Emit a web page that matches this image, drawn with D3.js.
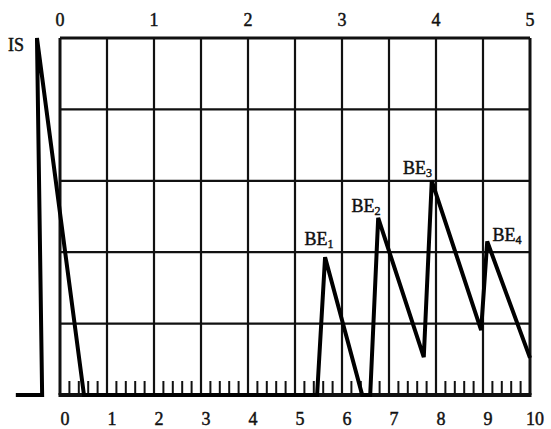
<!DOCTYPE html>
<html><head><meta charset="utf-8">
<script src="https://cdn.jsdelivr.net/npm/d3@7"></script>
<style>body{margin:0;background:#fff}svg{display:block}text{font-family:"Liberation Serif","DejaVu Serif",serif;fill:#111;stroke:#111;stroke-width:0.45}</style>
</head><body>
<svg id="c" width="551" height="429"></svg>
<script>
// data
const bottomTicks = [0,1,2,3,4,5,6,7,8,9,10];
const topTicks = [0,1,2,3,4,5];
const rowLines = [1,2,3,4,5];
// trace (bottom-axis units, grid-row units)
const traceX = [-0.94,-0.38,-0.49,0.51,5.47,5.64,6.43,6.60,6.77,7.74,7.91,8.96,9.09,10.0];
const traceY = [0,    0,    5.0,  0,   0,   1.93,0,   0,   2.48,0.53,3.0, 0.91,2.15,0.52];
const peakNames = ["BE","BE","BE","BE"];
const peakSubs = ["1","2","3","4"];
const peakLabelX = [5.2,6.2,7.3,9.2];
const peakLabelY = [2.1,2.56,3.1,2.15];

const svg = d3.select("#c");
const xB = d3.scaleLinear().domain([0,10]).range([60,530]);
const xT = d3.scaleLinear().domain([0,5]).range([60,530]);
const y = d3.scaleLinear().domain([0,5]).range([395,38]);

const g = svg.append("g");
// vertical grid lines
g.selectAll("line.v").data(bottomTicks).join("line")
  .attr("x1",d=>xB(d)).attr("x2",d=>xB(d)).attr("y1",y(5)).attr("y2",y(0))
  .attr("stroke","#111").attr("stroke-width",d=>(d===0||d===10)?3:2.2);
// horizontal grid lines
g.selectAll("line.h").data(rowLines).join("line")
  .attr("x1",xB(0)).attr("x2",xB(10)).attr("y1",d=>y(d)).attr("y2",d=>y(d))
  .attr("stroke","#111").attr("stroke-width",d=>d===5?3:2.2);
// baseline
g.append("line").attr("x1",xB(0)-1.5).attr("x2",xB(10)+1.5).attr("y1",y(0)).attr("y2",y(0))
  .attr("stroke","#111").attr("stroke-width",4);
// minor ticks
const minor = d3.range(0,50).map(i=>i*0.2).filter(v=>Math.abs(v-Math.round(v))>1e-6);
g.selectAll("line.m").data(minor).join("line")
  .attr("x1",d=>xB(d)).attr("x2",d=>xB(d)).attr("y1",y(0)).attr("y2",y(0)-14)
  .attr("stroke","#111").attr("stroke-width",2);

// top axis labels
svg.selectAll("text.t").data(topTicks).join("text")
  .attr("x",d=>xT(d)).attr("y",26).attr("text-anchor","middle")
  .attr("font-size",18).text(d=>d);
// bottom axis labels
svg.selectAll("text.b").data(bottomTicks).join("text")
  .attr("x",d=>xB(d)+5).attr("y",425).attr("text-anchor","middle")
  .attr("font-size",18).text(d=>d);

// trace
const pts = traceX.map((v,i)=>[v,traceY[i]]);
const line = d3.line().x(d=>xB(d[0])).y(d=>y(d[1]));
svg.append("path").attr("d",line(pts)).attr("fill","none")
  .attr("stroke","#000").attr("stroke-width",4).attr("stroke-linejoin","miter").attr("stroke-miterlimit",4);

// IS label
svg.append("text").attr("x",8).attr("y",51).attr("font-size",18).text("IS");

// BE labels
peakNames.forEach((n,i)=>{
  const t = svg.append("text").attr("x",xB(peakLabelX[i])).attr("y",y(peakLabelY[i])).attr("font-size",18);
  t.append("tspan").text(n);
  t.append("tspan").attr("font-size",12).attr("dy",3).text(peakSubs[i]);
});
</script>
</body></html>
